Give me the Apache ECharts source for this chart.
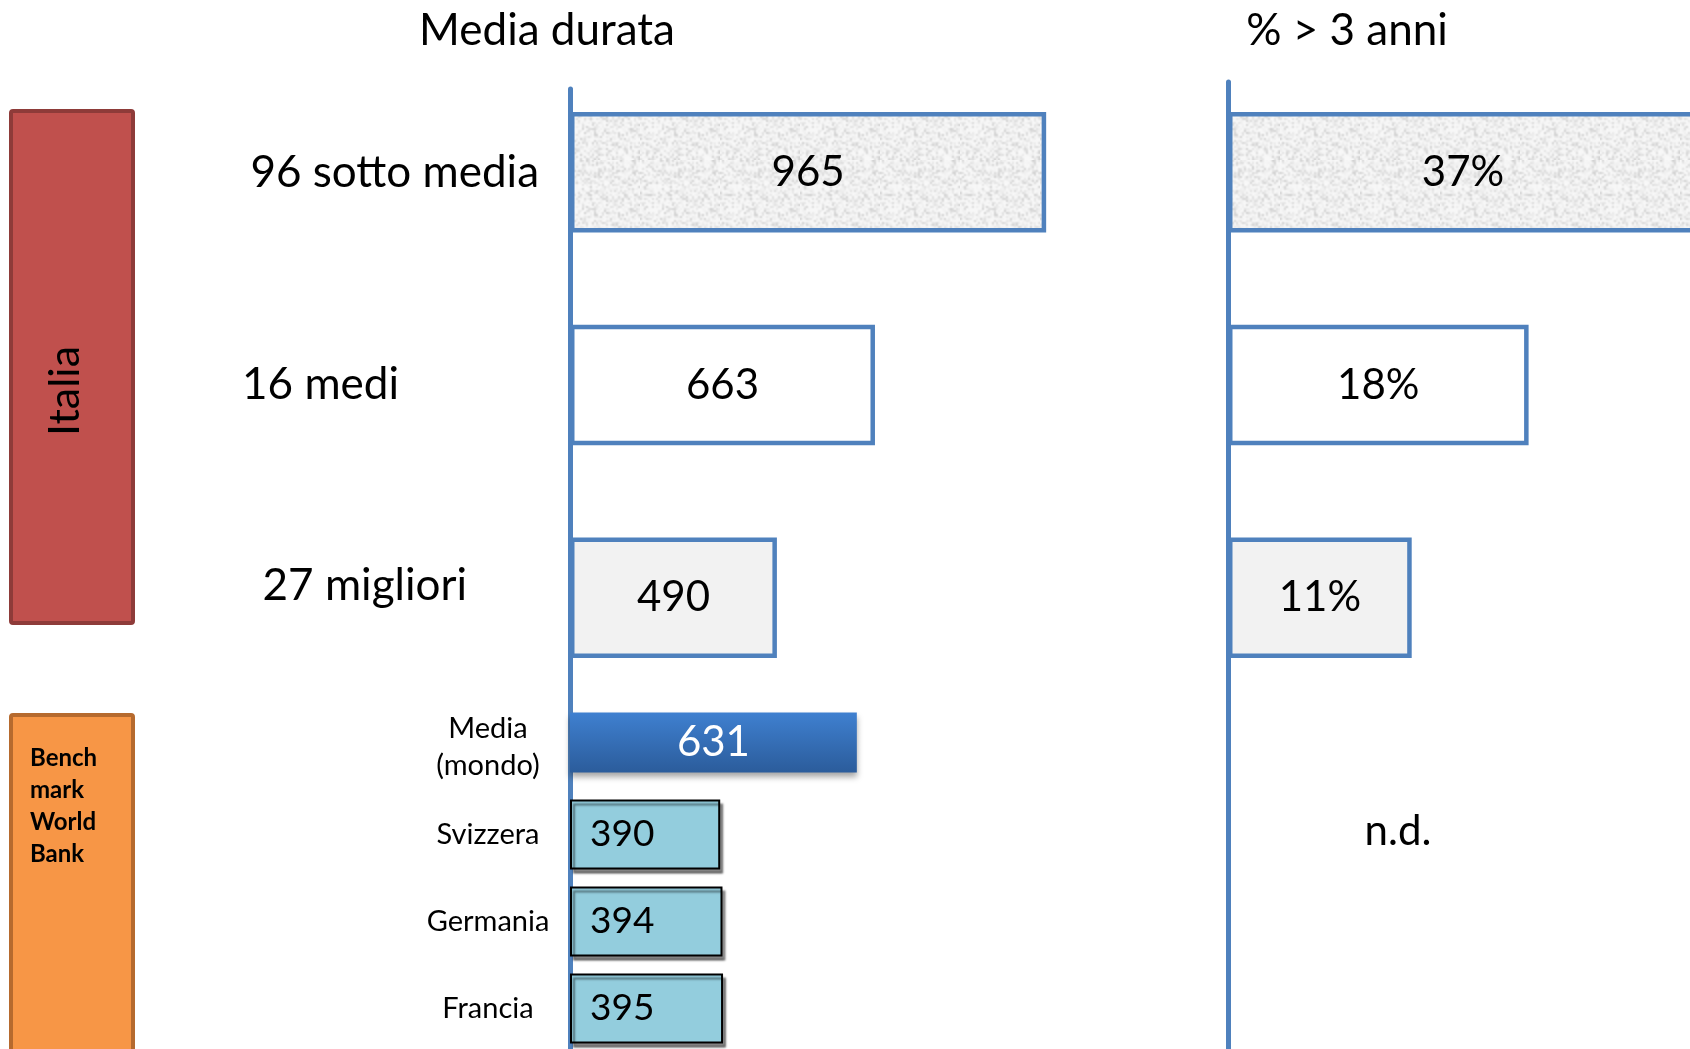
<!DOCTYPE html>
<html>
<head>
<meta charset="utf-8">
<title>Media durata</title>
<script src="https://cdn.jsdelivr.net/npm/echarts@6/dist/echarts.min.js"></script>
<style>
  html, body { margin: 0; padding: 0; background: #fff; }
  #chart { width: 1690px; height: 1049px; }
</style>
</head>
<body>
<div id="chart"></div>
<script>
// dati
var italiaCategories = ['96 sotto media', '16 medi', '27 migliori'];
var italiaDurata = [965, 663, 490];
var italiaOltre3Anni = [37, 18, 11];   // % > 3 anni
var benchCategories = ['Media\n(mondo)', 'Svizzera', 'Germania', 'Francia'];
var mediaMondo = [631, '-', '-', '-'];
var benchDurata = ['-', 390, 394, 395];
var benchOltre3Anni = 'n.d.';

var FONT = 'Lato, "Open Sans", sans-serif';
var BLUE = '#4F81BD';

// texture grigia (tipo carta) per la prima barra
function makeTexture() {
    var small = document.createElement('canvas');
    small.width = small.height = 40;
    var ctx = small.getContext('2d');
    var img = ctx.createImageData(40, 40);
    for (var y = 0; y < 40; y++) {
        for (var x = 0; x < 40; x++) {
            var n = Math.sin(x * 12.9898 + y * 78.233) * 43758.5453;
            n = n - Math.floor(n);
            var g = Math.round(248 - 40 * n * n * n);
            var k = (y * 40 + x) * 4;
            img.data[k] = img.data[k + 1] = img.data[k + 2] = g;
            img.data[k + 3] = 255;
        }
    }
    ctx.putImageData(img, 0, 0);
    var big = document.createElement('canvas');
    big.width = big.height = 80;
    var bctx = big.getContext('2d');
    bctx.imageSmoothingEnabled = true;
    bctx.drawImage(small, 0, 0, 80, 80);
    return big;
}

var texture = makeTexture();
var italiaFill = [{ image: texture, repeat: 'repeat' }, '#FFFFFF', '#F2F2F2'];

function richLabel(size) {
    return { fontSize: size, fontFamily: FONT, color: '#000' };
}

var chart = echarts.init(document.getElementById('chart'));

var option = {
    animation: false,
    backgroundColor: '#fff',
    textStyle: { fontFamily: FONT },
    grid: [
        { left: 570, top: 66, width: 496, height: 638, outerBoundsMode: 'none' },
        { left: 570, top: 704, width: 496, height: 348, outerBoundsMode: 'none' },
        { left: 1228, top: 66, width: 668, height: 638, outerBoundsMode: 'none' },
        { left: 1228, top: 704, width: 668, height: 348, outerBoundsMode: 'none' }
    ],
    xAxis: [
        { gridIndex: 0, type: 'value', min: 125, max: 1000, startValue: 125, show: false },
        { gridIndex: 1, type: 'value', min: 125, max: 1000, startValue: 125, show: false },
        { gridIndex: 2, type: 'value', min: 0, max: 40, show: false },
        { gridIndex: 3, type: 'value', min: 0, max: 40, show: false }
    ],
    yAxis: [
        {
            gridIndex: 0, type: 'category', inverse: true, data: italiaCategories,
            // la linea parte un po' sotto il bordo del grid
            axisLine: { lineStyle: { color: BLUE, width: 5, type: [615, 23], dashOffset: 615 } },
            axisTick: { show: false },
            axisLabel: {
                interval: 0, margin: 31,
                formatter: function (v, i) { return '{c' + i + '|' + v + '}'; },
                rich: {
                    c0: richLabel(44),
                    c1: Object.assign(richLabel(44), { padding: [0, 140, 0, 0] }),
                    c2: Object.assign(richLabel(44), { padding: [0, 72, 24, 0] })
                }
            }
        },
        {
            gridIndex: 1, type: 'category', inverse: true, data: benchCategories,
            axisLine: { lineStyle: { color: BLUE, width: 5 } },
            axisTick: { show: false },
            axisLabel: {
                interval: 0, margin: 82, align: 'center',
                color: '#000', fontSize: 29, lineHeight: 37, fontFamily: FONT
            }
        },
        {
            gridIndex: 2, type: 'category', inverse: true, data: italiaCategories,
            axisLine: { lineStyle: { color: BLUE, width: 5, type: [622, 16], dashOffset: 622 } },
            axisTick: { show: false },
            axisLabel: { show: false }
        },
        {
            gridIndex: 3, type: 'category', inverse: true, data: benchCategories,
            axisLine: { lineStyle: { color: BLUE, width: 5 } },
            axisTick: { show: false },
            axisLabel: { show: false }
        }
    ],
    series: [
        {
            name: 'Media durata', type: 'bar', xAxisIndex: 0, yAxisIndex: 0, barWidth: 120.5,
            data: italiaDurata.map(function (v, i) {
                return { value: v, itemStyle: { color: italiaFill[i] } };
            }),
            itemStyle: { borderColor: BLUE, borderWidth: 4.5 },
            label: { show: true, position: 'inside', color: '#000', fontSize: 42, fontFamily: FONT }
        },
        {
            name: 'Media (mondo)', type: 'bar', xAxisIndex: 1, yAxisIndex: 1,
            barWidth: 60, barGap: '-100%',
            data: mediaMondo,
            itemStyle: {
                color: new echarts.graphic.LinearGradient(0, 0, 0, 1, [
                    { offset: 0, color: '#3F80D0' },
                    { offset: 1, color: '#2B5C9B' }
                ]),
                shadowColor: 'rgba(0,0,0,0.35)', shadowBlur: 6, shadowOffsetY: 4
            },
            label: { show: true, position: 'inside', color: '#fff', fontSize: 42, fontFamily: FONT }
        },
        {
            name: 'Benchmark', type: 'bar', xAxisIndex: 1, yAxisIndex: 1,
            barWidth: 70, barGap: '-100%',
            data: benchDurata,
            itemStyle: {
                color: '#93CDDD', borderColor: '#000', borderWidth: 2,
                shadowColor: 'rgba(0,0,0,0.45)', shadowBlur: 2, shadowOffsetX: 3, shadowOffsetY: 4
            },
            label: { show: true, position: 'insideLeft', distance: 20, color: '#000', fontSize: 37, fontFamily: FONT }
        },
        {
            name: '% > 3 anni', type: 'bar', xAxisIndex: 2, yAxisIndex: 2, barWidth: 120.5,
            data: italiaOltre3Anni.map(function (v, i) {
                var d = { value: v, itemStyle: { color: italiaFill[i] } };
                // barra tagliata dal bordo: etichetta al centro della parte visibile
                if (i === 0) d.label = { position: [235, '50%'], align: 'center', verticalAlign: 'middle' };
                return d;
            }),
            itemStyle: { borderColor: BLUE, borderWidth: 4.5 },
            label: { show: true, position: 'inside', formatter: '{c}%', color: '#000', fontSize: 42, fontFamily: FONT }
        }
    ],
    graphic: [
        { type: 'text', x: 547, y: 31, style: { text: 'Media durata', font: '44px ' + FONT, fill: '#000', align: 'center', verticalAlign: 'middle' } },
        { type: 'text', x: 1347, y: 31, style: { text: '% > 3 anni', font: '44px ' + FONT, fill: '#000', align: 'center', verticalAlign: 'middle' } },
        { type: 'text', x: 1398, y: 831, style: { text: benchOltre3Anni, font: '42px ' + FONT, fill: '#000', align: 'center', verticalAlign: 'middle' } },
        { type: 'rect', shape: { x: 11, y: 111, width: 122, height: 512, r: 2 }, style: { fill: '#C0504D', stroke: '#8E3B39', lineWidth: 4 } },
        { type: 'text', x: 65, y: 391, rotation: Math.PI / 2, style: { text: 'Italia', font: '43px ' + FONT, fill: '#000', align: 'center', verticalAlign: 'middle' } },
        { type: 'rect', shape: { x: 11, y: 715, width: 122, height: 360, r: 2 }, style: { fill: '#F79646', stroke: '#B66A2E', lineWidth: 4 } },
        { type: 'text', x: 30, y: 742, style: { text: 'Bench\nmark\nWorld\nBank', font: 'bold 24px ' + FONT, lineHeight: 32, fill: '#000', align: 'left', verticalAlign: 'top' } }
    ]
};

chart.setOption(option);
</script>
</body>
</html>
